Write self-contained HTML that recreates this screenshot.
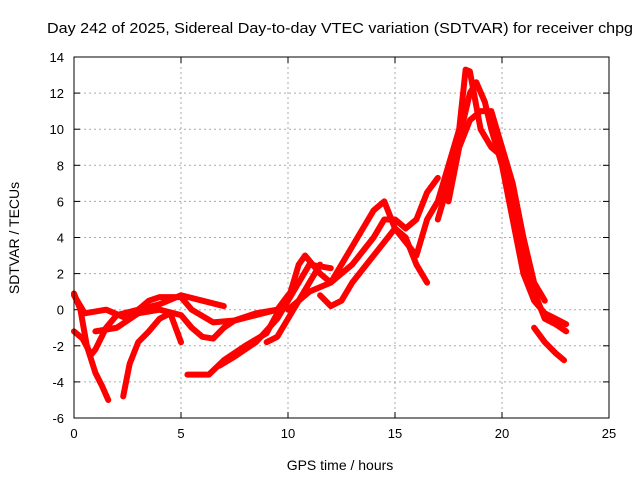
<!DOCTYPE html>
<html><head><meta charset="utf-8"><style>
body{margin:0;background:#fff;}
svg{display:block;font-family:"Liberation Sans",sans-serif;}
</style></head><body>
<svg id="chart" width="640" height="480">
<text x="340" y="33" font-size="15" text-anchor="middle" textLength="586" lengthAdjust="spacingAndGlyphs">Day 242 of 2025, Sidereal Day-to-day VTEC variation (SDTVAR) for receiver chpg</text>
<text x="340" y="470" font-size="14" text-anchor="middle">GPS time / hours</text>
<text transform="translate(19,238) rotate(-90)" font-size="14" text-anchor="middle">SDTVAR / TECUs</text>
<g id="grid"></g><g id="series"></g>
<rect x="74" y="57" width="535" height="361" fill="none" stroke="#000"/>
</svg>
<script>
const xTicks=[0,5,10,15,20,25];
const yTicks=[-6,-4,-2,0,2,4,6,8,10,12,14];
const track1=[[0,0.9],[0.3,0],[0.6,-2],[1,-3.5],[1.3,-4.2],[1.6,-5]];
const track2=[[0,-1.2],[0.4,-1.6],[0.8,-2.5],[1,-2.2],[1.5,-1],[2,-0.3],[3,0],[4,0.3],[5,0.8],[6,0.5],[7,0.2]];
const track3=[[0,0.8],[0.5,-0.2],[1.5,0],[2.5,-0.5],[3.5,0.5],[4,0.7],[5,0.7],[5.5,0],[6.5,-0.7],[7.5,-0.6],[8.5,-0.2],[9.5,0],[10,0.8],[10.5,1.5],[11,2.5],[12,2.3]];
const track4=[[2.3,-4.8],[2.6,-3],[3,-1.8],[3.5,-1.2],[4,-0.5],[4.5,-0.2],[5,-1.8]];
const track5=[[1,-1.2],[2,-1],[3,-0.2],[4,0],[5,-0.3],[5.5,-1],[6,-1.5],[6.5,-1.6],[7,-1],[7.5,-0.6],[8.5,-0.3],[9.5,0]];
const track6=[[5.3,-3.6],[6.3,-3.6],[7,-2.8],[8,-2],[9,-1.3],[9.5,-0.2],[10,0.5],[10.5,1.5]];
const track7=[[6.8,-3.1],[7.5,-2.6],[8.5,-1.8],[9.5,-0.5],[10,0.5],[10.5,2.5],[10.8,3],[11.5,2],[12,1.5],[12.5,2.5],[13,3.5],[13.5,4.5],[14,5.5],[14.5,6],[15,4.5],[15.5,4],[16,2.5],[16.5,1.5]];
const track8=[[10,0],[11,1],[12,1.5],[13,2.5],[14,4],[14.5,5],[15,5],[15.5,4.5],[16,5],[16.5,6.5],[17,7.3]];
const track9=[[11.5,0.8],[12,0.2],[12.5,0.5],[13,1.5],[14,3],[15,4.5],[16,3],[16.5,5],[17,6],[17.5,8],[18,10],[18.3,13.3],[18.5,13.2],[19,10],[19.5,9],[20,8.5],[20.5,6],[21,3],[21.5,1],[22,-0.5],[22.5,-0.8],[23,-1.2]];
const track10=[[17,5],[17.5,7],[18,9.5],[18.5,12],[18.8,12.6],[19.2,11.5],[19.5,10],[20,8],[20.5,5],[21,2],[21.5,0.5],[22,-0.2],[22.5,-0.5],[23,-0.8]];
const track11=[[17.5,6],[18,9],[18.5,10.5],[19,11],[19.5,11],[20,9],[20.5,7],[21,4],[21.5,1.5],[22,0.5]];
const track12=[[21.5,-1],[22,-1.8],[22.5,-2.4],[22.9,-2.8]];
const track13=[[9,-1.8],[9.5,-1.5],[10,-0.5],[10.5,0.5],[11,1.5],[11.5,2.5]];
const tracks=[track1,track2,track3,track4,track5,track6,track7,track8,track9,track10,track11,track12,track13];
const NS="http://www.w3.org/2000/svg";
const X0=74,X1=609,Y0=418,Y1=57;
function xs(v){return X0+(v-0)/(25-0)*(X1-X0);}
function ys(v){return Y0-(v+6)/20*(Y0-Y1);}
const grid=document.getElementById('grid'),ser=document.getElementById('series');
function mk(t,a,p){const e=document.createElementNS(NS,t);for(const k in a)e.setAttribute(k,a[k]);p.appendChild(e);return e;}
xTicks.forEach(v=>{
 const x=xs(v);
 if(v>0&&v<25){const l=mk('line',{x1:x,x2:x,y1:Y1,y2:Y0,stroke:'#aaa','stroke-dasharray':'2,3'},grid);
 
 }
 mk('line',{x1:x,x2:x,y1:Y0,y2:Y0-6,stroke:'#000'},grid);
 mk('line',{x1:x,x2:x,y1:Y1,y2:Y1+6,stroke:'#000'},grid);
 const t=mk('text',{x:x,y:Y0+20,'font-size':13,'text-anchor':'middle'},grid);t.textContent=v;
 
 
});
yTicks.forEach(v=>{
 const y=ys(v);
 if(v>-6&&v<14){const l=mk('line',{x1:X0,x2:X1,y1:y,y2:y,stroke:'#aaa','stroke-dasharray':'2,3'},grid);
 
 }
 mk('line',{x1:X0,x2:X0+6,y1:y,y2:y,stroke:'#000'},grid);
 mk('line',{x1:X1,x2:X1-6,y1:y,y2:y,stroke:'#000'},grid);
 const t=mk('text',{x:X0-10,y:y+5,'font-size':13,'text-anchor':'end'},grid);t.textContent=v;
 
 
});
tracks.forEach((tr,i)=>{
 const p=mk('polyline',{points:tr.map(d=>xs(d[0])+','+ys(d[1])).join(' '),fill:'none',stroke:'#f00','stroke-width':6,'stroke-linejoin':'round','stroke-linecap':'round'},ser);
 
 
});
</script>
</body></html>
